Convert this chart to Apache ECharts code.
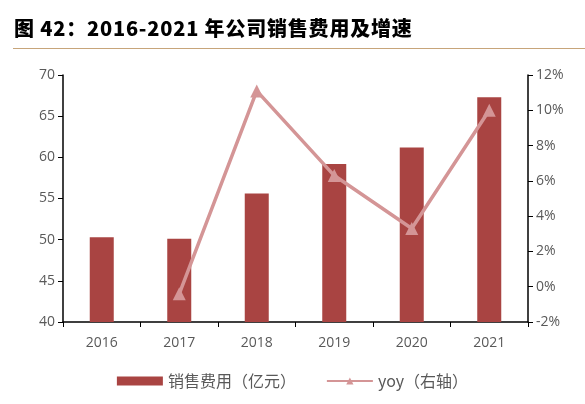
<!DOCTYPE html>
<html>
<head>
<meta charset="utf-8">
<script src="https://cdn.jsdelivr.net/npm/echarts@6/dist/echarts.min.js"></script>
<style>
  html, body { margin: 0; padding: 0; background: #fff; }
  #title { position: absolute; left: 14px; top: 13px; font: 900 20px "Noto Sans CJK SC", sans-serif; color: #000; letter-spacing: 0.8px; }
  #rule { position: absolute; left: 13px; right: 0; top: 48px; height: 0; border-top: 1.5px solid #C7A57A; }
  #main { position: absolute; left: 0; top: 0; width: 585px; height: 404px; }
</style>
</head>
<body>
<div id="main"></div>
<div id="title">图 42：2016-2021 年公司销售费用及增速</div>
<div id="rule"></div>
<script>
// 年份
var years = ['2016', '2017', '2018', '2019', '2020', '2021'];
// 销售费用（亿元）
var salesCost = [50.3, 50.1, 55.6, 59.2, 61.2, 67.3];
// 同比增速 %
var yoy = [null, -0.4, 11.1, 6.3, 3.3, 10.0];

var mychart = echarts.init(document.getElementById('main'));
var labelFont = { color: '#595959', fontSize: 14, fontFamily: '"Open Sans", sans-serif' };
var option = {
    animation: false,
    grid: { left: 63, right: 57, top: 75, bottom: 82, containLabel: false },
    legend: {
        bottom: 10,
        itemGap: 30,
        itemWidth: 46,
        itemHeight: 9,
        textStyle: { color: '#595959', fontSize: 16, fontFamily: '"Noto Sans CJK SC", sans-serif' },
        data: [
            { name: '销售费用（亿元）', icon: 'rect' },
            { name: 'yoy（右轴）' }
        ]
    },
    xAxis: {
        type: 'category',
        data: years,
        axisLine: { onZero: false, lineStyle: { color: '#000', width: 1.5 } },
        axisTick: { show: true, alignWithLabel: false, length: 5, inside: false, lineStyle: { color: '#000' } },
        axisLabel: Object.assign({ margin: 14 }, labelFont)
    },
    yAxis: [
        {
            type: 'value', min: 40, max: 70, interval: 5,
            axisLine: { show: true, lineStyle: { color: '#000', width: 1.5 } },
            axisTick: { show: true, length: 5, lineStyle: { color: '#000' } },
            splitLine: { show: false },
            axisLabel: Object.assign({ margin: 8 }, labelFont)
        },
        {
            type: 'value', min: -2, max: 12, interval: 2,
            axisLine: { show: true, lineStyle: { color: '#000', width: 1.5 } },
            axisTick: { show: true, length: 5, lineStyle: { color: '#000' } },
            splitLine: { show: false },
            axisLabel: Object.assign({ margin: 8, formatter: '{value}%' }, labelFont)
        }
    ],
    series: [
        {
            name: '销售费用（亿元）',
            type: 'bar',
            data: salesCost,
            barWidth: 24,
            itemStyle: { color: '#A94442' }
        },
        {
            name: 'yoy（右轴）',
            type: 'line',
            yAxisIndex: 1,
            data: yoy,
            symbol: 'triangle',
            symbolSize: 13,
            lineStyle: { color: '#D49596', width: 3.5 },
            itemStyle: { color: '#D49596' }
        }
    ]
};
mychart.setOption(option);
</script>
</body>
</html>
